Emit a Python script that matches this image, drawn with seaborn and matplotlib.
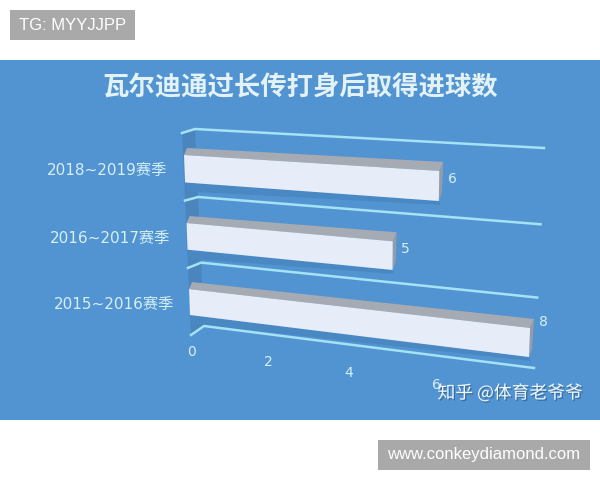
"""
Long-ball goals chart, drawn as a fake 3D bar chart on a blue panel
"""

import numpy as np
import pandas as pd
import matplotlib
matplotlib.use('Agg')
import matplotlib.pyplot as plt
import matplotlib.patheffects as pe
from matplotlib.patches import Rectangle
from matplotlib.transforms import Transform
import seaborn as sns

seasons = ['2018~2019赛季', '2016~2017赛季', '2015~2016赛季']
goals = [6, 5, 8]
axis_ticks = [0, 2, 4, 6]
title = '瓦尔迪通过长传打身后取得进球数'
watermark = '知乎 @体育老爷爷'
stamp_top = 'TG: MYYJJPP'
stamp_bottom = 'www.conkeydiamond.com'

BLUE = '#5294d1'
WALL = '#4a86bd'
SHADOW = '#4a88c3'
LINE = '#a4e2f4'
TEXT = '#d6eff7'
FRONT = '#e6edf8'
TOP = '#a6abb3'
SIDE = '#959ca8'
STAMP = '#a9a9a9'

CJK = ['Noto Sans CJK SC', 'DejaVu Sans']
LATIN = ['DejaVu Sans', 'Noto Sans CJK SC']


class Persp(Transform):
    """Maps (goals, category position) to picture pixels with a homography."""
    input_dims = 2
    output_dims = 2
    is_affine = False

    def __init__(self, src, dst):
        super().__init__()
        A, b = [], []
        for (x, y), (u, v) in zip(src, dst):
            A.append([x, y, 1, 0, 0, 0, -u * x, -u * y])
            A.append([0, 0, 0, x, y, 1, -v * x, -v * y])
            b.extend([u, v])
        self.m = np.append(np.linalg.solve(np.array(A, float), np.array(b, float)), 1).reshape(3, 3)

    def transform_non_affine(self, values):
        xy = np.column_stack([values, np.ones(len(values))]) @ self.m.T
        return xy[:, :2] / xy[:, 2:]


# bars sit on the front plane, the grid lines on the back wall
front = Persp([(0, -0.2), (8, -0.2), (0, 2.2), (8, 2.2)],
              [(184, 155), (536, 177), (190, 315), (529, 357)])
back = Persp([(0, -0.5), (8, -0.5), (0, 2.5), (8, 2.5)],
             [(195, 129), (544, 148), (204, 326), (534, 368)])
front_wall = Persp([(0, -0.5), (8, -0.5), (0, 2.5), (8, 2.5)],
                   [(182, 133), (522, 152), (191, 335), (530, 377)])

df = pd.DataFrame({'season': seasons, 'goals': goals})

fig, ax = plt.subplots(figsize=(6, 4.8), dpi=100)
ax.set_position([0, 0, 1, 1])
sns.barplot(data=df, x='goals', y='season', ax=ax, color=FRONT, saturation=1, width=0.4, zorder=5)
bars = list(ax.patches)

# the axes act as a canvas in picture pixels, bars go through the homography
ax.set_xlim(0, 600)
ax.set_ylim(480, 0)
ax.axis('off')

ax.add_patch(Rectangle((0, 60), 600, 360, facecolor=BLUE, lw=0, zorder=0))

# left wall and grid lines
for i in range(len(seasons)):
    y0, y1 = i - 0.5, i + 0.5
    quad = np.vstack([front_wall.transform_non_affine(np.array([(0, y0), (0, y1)])),
                      back.transform_non_affine(np.array([(0, y1), (0, y0)]))])
    ax.fill(quad[:, 0], quad[:, 1], color=WALL, lw=0, zorder=1)

for y in np.arange(len(seasons) + 1) - 0.5:
    p0 = front_wall.transform_non_affine(np.array([(0, y)]))
    p1 = back.transform_non_affine(np.array([(0, y), (8, y)]))
    pts = np.vstack([p0, p1])
    ax.plot(pts[:, 0], pts[:, 1], color=LINE, lw=1.8, zorder=3)

# 3D faces around each seaborn bar
label_dy = [-7, -7, -20]
for i, bar in enumerate(bars):
    v = bar.get_width()
    top_y, bot_y = bar.get_y(), bar.get_y() + bar.get_height()
    bar.set_transform(front + ax.transData)
    bar.set_clip_on(False)
    tl, tr, br, bl = front.transform_non_affine(np.array([(0, top_y), (v, top_y), (v, bot_y), (0, bot_y)]))
    d0, d1 = np.array([3, -7]), np.array([4, -9])
    top = np.array([tl, tr, tr + d1, tl + d0])
    side = np.array([tr, br, br + np.array([3, -8]), tr + d1])
    shade = np.array([bl, br, br + np.array([2, 4]), bl + np.array([2, 9])])
    ax.fill(shade[:, 0], shade[:, 1], color=SHADOW, lw=0, zorder=2)
    ax.fill(top[:, 0], top[:, 1], color=TOP, lw=0, zorder=4)
    ax.fill(side[:, 0], side[:, 1], color=SIDE, lw=0, zorder=4)
    # value next to the bar end
    ax.text(tr[0] + 13, (tr[1] + br[1]) / 2 + label_dy[i], str(goals[i]), color=TEXT, fontsize=10,
            ha='center', va='center', family=LATIN, zorder=6)

# category labels
label_right = [167, 170, 174]
for i, name in enumerate(seasons):
    cy = front.transform_non_affine(np.array([(0, i)]))[0, 1]
    ax.text(label_right[i], cy + 2, name, color=TEXT, fontsize=11, ha='right', va='center', family=LATIN)

# x ticks run down along the floor
tick_px = [(192, 352), (268, 362), (349, 373), (436, 385)]
for t, (px, py) in zip(axis_ticks, tick_px):
    ax.text(px, py, str(t), color=TEXT, fontsize=10, ha='center', va='center', family=LATIN)

ax.text(300, 88, title, color='#e2f2f7', fontsize=19, fontweight='bold', ha='center', va='center', family=CJK)

ax.text(510, 393, watermark, color='#f2f8fb', fontsize=12.8, ha='center', va='center', family=CJK, zorder=7,
        path_effects=[pe.withSimplePatchShadow(offset=(1, -1), shadow_rgbFace='#2f5f8c', alpha=0.7)])

# grey stamps outside the panel
ax.add_patch(Rectangle((10, 10), 125, 30, facecolor=STAMP, lw=0, zorder=6))
ax.text(72.5, 25, stamp_top, color='white', fontsize=12, ha='center', va='center', family='Liberation Sans', zorder=7)
ax.add_patch(Rectangle((378, 440), 212, 30, facecolor=STAMP, lw=0, zorder=6))
ax.text(484, 455, stamp_bottom, color='white', fontsize=12, ha='center', va='center', family='Liberation Sans', zorder=7)

plt.savefig('out.png', dpi=100)
plt.close()
